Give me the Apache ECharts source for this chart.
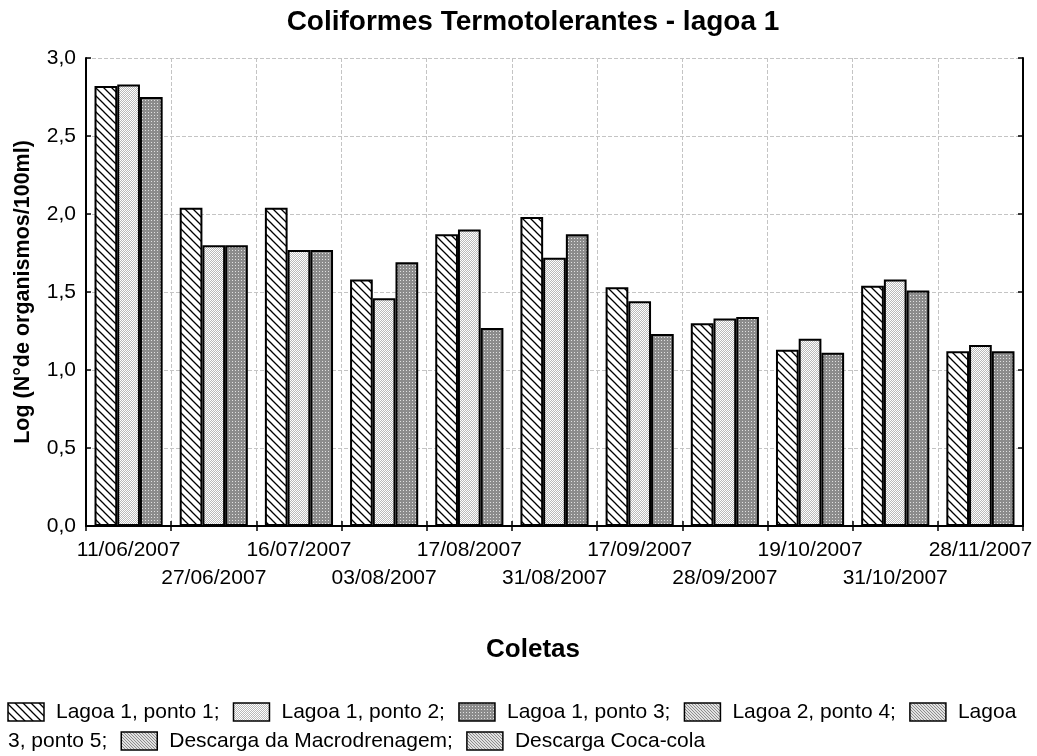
<!DOCTYPE html>
<html>
<head>
<meta charset="utf-8">
<script src="https://cdn.jsdelivr.net/npm/echarts@6/dist/echarts.min.js"></script>
<style>
  html, body { margin: 0; padding: 0; background: #fff; }
  #chart { width: 1037px; height: 756px; }
</style>
</head>
<body>
<div id="chart"></div>
<script>
// Sampling dates (Coletas)
const categories = ['11/06/2007', '27/06/2007', '16/07/2007', '03/08/2007', '17/08/2007', '31/08/2007',
                    '17/09/2007', '28/09/2007', '19/10/2007', '31/10/2007', '28/11/2007'];
// Log (N° de organismos/100ml) per sampling point
const ponto1 = [2.82, 2.04, 2.04, 1.58, 1.87, 1.98, 1.53, 1.30, 1.13, 1.54, 1.12];
const ponto2 = [2.83, 1.80, 1.77, 1.46, 1.90, 1.72, 1.44, 1.33, 1.20, 1.58, 1.16];
const ponto3 = [2.75, 1.80, 1.77, 1.69, 1.27, 1.87, 1.23, 1.34, 1.11, 1.51, 1.12];
const seriesNames = ['Lagoa 1, ponto 1', 'Lagoa 1, ponto 2', 'Lagoa 1, ponto 3'];
const legendNames = ['Lagoa 1, ponto 1;', 'Lagoa 1, ponto 2;', 'Lagoa 1, ponto 3;', 'Lagoa 2, ponto 4;',
                     'Lagoa 3, ponto 5;', 'Descarga da Macrodrenagem;', 'Descarga Coca-cola'];
const yMin = 0, yMax = 3, yStep = 0.5;

const FONT = '"Liberation Sans", Arial, sans-serif';

// ---- fill patterns ----
function hatchCanvas() {
  const c = document.createElement('canvas');
  c.width = c.height = 8;
  const g = c.getContext('2d');
  g.fillStyle = '#fff'; g.fillRect(0, 0, 8, 8);
  g.strokeStyle = '#000'; g.lineWidth = 1.3;
  g.beginPath();
  g.moveTo(-1, -1); g.lineTo(9, 9);
  g.moveTo(-1, 7); g.lineTo(1, 9);
  g.moveTo(7, -1); g.lineTo(9, 1);
  g.stroke();
  return c;
}
function stippleCanvas(grid) {
  const h = grid.length, w = grid[0].length;
  const c = document.createElement('canvas');
  c.width = w; c.height = h;
  const g = c.getContext('2d');
  for (let r = 0; r < h; r++) for (let k = 0; k < w; k++) {
    const v = grid[r][k];
    g.fillStyle = 'rgb(' + v + ',' + v + ',' + v + ')';
    g.fillRect(k, r, 1, 1);
  }
  return c;
}
const pat = c => ({ image: c, repeat: 'repeat' });
const fillHatch = pat(hatchCanvas());
const fillLight = pat(stippleCanvas([[255, 185], [185, 255]]));
const fillDark = pat(stippleCanvas([[140, 140, 140], [140, 225, 140], [140, 140, 140]]));
const fillMedium = pat(stippleCanvas([[140, 225, 225], [225, 140, 225], [225, 225, 140]]));
const seriesFills = [fillHatch, fillLight, fillDark];
const legendFills = [fillHatch, fillLight, fillDark, fillMedium, fillMedium, fillMedium, fillMedium];

// ---- legend laid out as flowing, wrapping text ----
const LEG_FONT_SIZE = 21;
const measureCtx = document.createElement('canvas').getContext('2d');
measureCtx.font = LEG_FONT_SIZE + 'px ' + FONT;
const tw = s => measureCtx.measureText(s).width;

function buildLegend() {
  const left = 8, maxX = 1030, rowY = [712, 741];
  const iconW = 36, iconH = 18, iconGap = 12, itemGap = 14;
  const out = [];
  let x = left, row = 0;
  const pushText = (s, tx, r) => out.push({
    type: 'text', silent: true,
    style: { text: s, x: tx, y: rowY[r], fill: '#000', fontSize: LEG_FONT_SIZE, fontFamily: FONT,
             textAlign: 'left', textVerticalAlign: 'middle', verticalAlign: 'middle' }
  });
  legendNames.forEach((name, i) => {
    if (x + iconW > maxX) { x = left; row++; }
    out.push({
      type: 'rect', silent: true,
      shape: { x: x, y: rowY[row] - iconH / 2, width: iconW, height: iconH },
      style: { fill: legendFills[i], stroke: '#000', lineWidth: 1.5 }
    });
    x += iconW + iconGap;
    let line = '', lineX = x;
    name.split(' ').forEach(w => {
      const trial = line ? line + ' ' + w : w;
      if (line && lineX + tw(trial) > maxX) {
        pushText(line, lineX, row);
        row++; lineX = left; line = w;
      } else {
        line = trial;
      }
    });
    pushText(line, lineX, row);
    x = lineX + tw(line) + itemGap;
  });
  return out;
}

const axisLineStyle = { color: '#000', width: 2 };
const tickStyle = { show: true, inside: true, length: 5, lineStyle: { color: '#000', width: 1.5 } };
const gridLine = { show: true, lineStyle: { type: 'dashed', color: '#c4c4c4', width: 1 } };
const fmtComma = v => v.toFixed(1).replace('.', ',');

const option = {
  animation: false,
  backgroundColor: '#fff',
  title: {
    text: 'Coliformes Termotolerantes - lagoa 1',
    left: 533, top: 8, textAlign: 'center', padding: 0,
    textStyle: { fontSize: 28, fontWeight: 'bold', color: '#000', fontFamily: FONT }
  },
  grid: { left: 86, right: 14, top: 58, bottom: 230 },
  xAxis: [{
    type: 'category', data: categories,
    axisLine: { lineStyle: axisLineStyle },
    axisTick: tickStyle,
    splitLine: gridLine,
    axisLabel: {
      interval: 0, color: '#000', fontSize: 21, fontFamily: FONT, margin: 10, lineHeight: 28,
      formatter: (v, i) => (i % 2 ? '\n' + v : v)
    },
    name: 'Coletas', nameLocation: 'middle', nameGap: 111,
    nameTextStyle: { fontSize: 26, fontWeight: 'bold', color: '#000', fontFamily: FONT, padding: [0, 43, 0, 0] }
  }, {
    type: 'category', data: categories, position: 'top',
    axisLine: { lineStyle: axisLineStyle },
    axisTick: tickStyle,
    axisLabel: { show: false },
    splitLine: { show: false }
  }],
  yAxis: [{
    type: 'value', min: yMin, max: yMax, interval: yStep,
    axisLine: { show: true, lineStyle: axisLineStyle },
    axisTick: tickStyle,
    splitLine: gridLine,
    axisLabel: { color: '#000', fontSize: 21, fontFamily: FONT, margin: 10, formatter: fmtComma },
    name: 'Log (N°de organismos/100ml)', nameLocation: 'middle', nameGap: 52,
    nameTextStyle: { fontSize: 21.5, fontWeight: 'bold', color: '#000', fontFamily: FONT }
  }, {
    type: 'value', min: yMin, max: yMax, interval: yStep, position: 'right',
    axisLine: { show: true, lineStyle: axisLineStyle },
    axisTick: tickStyle,
    axisLabel: { show: false },
    splitLine: { show: false }
  }],
  series: [ponto1, ponto2, ponto3].map((d, i) => ({
    name: seriesNames[i], type: 'bar', data: d,
    barCategoryGap: '20%', barGap: '0%',
    itemStyle: { color: seriesFills[i], borderColor: '#000', borderWidth: 2 },
    emphasis: { disabled: true }
  })),
  graphic: buildLegend()
};

const chart = echarts.init(document.getElementById('chart'), null, { renderer: 'canvas' });
chart.setOption(option);
</script>
</body>
</html>
